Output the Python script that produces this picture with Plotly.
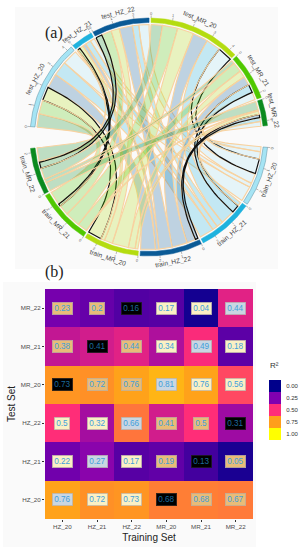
import math
import plotly.graph_objects as go

# R2 of each test set (rows) against each training set (columns)
train_sets = ["HZ_20", "HZ_21", "HZ_22", "MR_20", "MR_21", "MR_22"]
test_sets = ["HZ_20", "HZ_21", "HZ_22", "MR_20", "MR_21", "MR_22"]
r2_HZ_20 = [0.76, 0.72, 0.73, 0.68, 0.68, 0.67]
r2_HZ_21 = [0.22, 0.27, 0.17, 0.19, 0.13, 0.05]
r2_HZ_22 = [0.5, 0.32, 0.66, 0.41, 0.5, 0.31]
r2_MR_20 = [0.73, 0.72, 0.76, 0.81, 0.76, 0.56]
r2_MR_21 = [0.38, 0.41, 0.44, 0.34, 0.49, 0.18]
r2_MR_22 = [0.23, 0.2, 0.16, 0.17, 0.04, 0.44]
r2_rows = [r2_HZ_20, r2_HZ_21, r2_HZ_22, r2_MR_20, r2_MR_21, r2_MR_22]

# label box style of each cell: c cream, t tan, g grey-blue, k black
box_HZ_20 = list("gcckt" + "t")
box_HZ_21 = list("cgctkt")
box_HZ_22 = list("ccgttk")
box_MR_20 = list("kttgcc")
box_MR_21 = list("tktcgc")
box_MR_22 = list("ttkccg")
box_rows = [box_HZ_20, box_HZ_21, box_HZ_22, box_MR_20, box_MR_21, box_MR_22]
box_colors = {"c": "#FBF0C4", "t": "#E8BC78", "g": "#C9D6E2", "k": "#000000"}

sector_colors = ["#A6E4F4", "#1FB2DE", "#0A5A96", "#B4DC10", "#50C800", "#0A8A1E"]
legend_values = [0.0, 0.25, 0.5, 0.75, 1.0]
legend_labels = ["0.00", "0.25", "0.50", "0.75", "1.00"]
scale_colors = ["#00008B", "#8000B0", "#FF2D78", "#FF9E1B", "#FFFF00"]

W, H = 308, 550
CX, CY, R = 149.0, 137.0, 119.0
FONT = "Liberation Sans"

colorscale = [[v, c] for v, c in zip(legend_values, scale_colors)]


def polar(angle_deg, r):
    a = math.radians(angle_deg)
    return r * math.sin(a), r * math.cos(a)


def rgba(hex_color, alpha):
    return "rgba(%d,%d,%d,%.3f)" % (int(hex_color[1:3], 16), int(hex_color[3:5], 16),
                                    int(hex_color[5:7], 16), alpha)


# Layout of the chord sectors, clockwise from the left
test_totals = [sum(row) for row in r2_rows]
train_totals = [sum(row[j] for row in r2_rows) for j in range(6)]
GAP, BIG_GAP = 1.0, 10.5
deg_per_unit = (360 - 10 * GAP - 2 * BIG_GAP) / (sum(test_totals) + sum(train_totals))
START = -85.0

sectors = []
angle = START
for i, t in enumerate(test_totals):
    sectors.append(("test_" + test_sets[i], angle, t, sector_colors[i]))
    angle += t * deg_per_unit + GAP
angle += BIG_GAP - GAP
for j, t in enumerate(train_totals):
    sectors.append(("train_" + train_sets[j], angle, t, sector_colors[j]))
    angle += t * deg_per_unit + GAP

# link positions inside the sectors: both sides run MR_22 -> HZ_20 clockwise
test_pos = {}
for i in range(6):
    a = sectors[i][1]
    for j in reversed(range(6)):
        w = r2_rows[i][j] * deg_per_unit
        test_pos[(i, j)] = (a, a + w)
        a += w
train_pos = {}
for j in range(6):
    a = sectors[6 + j][1]
    for i in reversed(range(6)):
        w = r2_rows[i][j] * deg_per_unit
        train_pos[(i, j)] = (a, a + w)
        a += w

fig = go.Figure()
LINK_R = 0.945


def arc(a0, a1, r, n=14):
    return [polar(a0 + (a1 - a0) * k / n, r) for k in range(n + 1)]


def bez(p0, p1, n=40):
    # quadratic curve pulled to the centre of the circle
    pts = []
    for k in range(n + 1):
        t = k / n
        pts.append(((1 - t) ** 2 * p0[0] + t ** 2 * p1[0], (1 - t) ** 2 * p0[1] + t ** 2 * p1[1]))
    return pts


for i in range(6):
    for j in range(6):
        s0, s1 = test_pos[(i, j)]
        t0, t1 = train_pos[(i, j)]
        a1 = arc(s0, s1, LINK_R)
        a2 = arc(t0, t1, LINK_R)
        pts = a1 + bez(a1[-1], a2[0]) + a2 + bez(a2[-1], a1[0])
        black = box_rows[i][j] == "k"
        fig.add_trace(go.Scatter(
            x=[p[0] for p in pts], y=[p[1] for p in pts], mode="lines", fill="toself",
            fillcolor=rgba(sector_colors[j], 0.25),
            line=dict(color="#111111" if black else "#F8D2A0", width=1.2 if black else 1.1),
            hoverinfo="skip", showlegend=False, xaxis="x", yaxis="y"))

annotations = []
for name, a0, total, color in sectors:
    a1 = a0 + total * deg_per_unit
    outer = arc(a0, a1, 1.0, 40)
    inner = arc(a1, a0, 0.962, 40)
    pts = outer + inner + outer[:1]
    fig.add_trace(go.Scatter(
        x=[p[0] for p in pts], y=[p[1] for p in pts], mode="lines", fill="toself",
        fillcolor=color, line=dict(color="#5A8FA0" if color == "#A6E4F4" else color, width=0.5),
        hoverinfo="skip", showlegend=False, xaxis="x", yaxis="y"))
    # axis ticks
    u = 0
    while u <= total + 1e-9:
        ang = a0 + u * deg_per_unit
        p0, p1 = polar(ang, 1.0), polar(ang, 1.022)
        fig.add_trace(go.Scatter(x=[p0[0], p1[0]], y=[p0[1], p1[1]], mode="lines",
                                 line=dict(color="#777777", width=0.5), hoverinfo="skip",
                                 showlegend=False, xaxis="x", yaxis="y"))
        lx, ly = polar(ang, 1.042)
        norm = (ang + 180) % 360 - 180
        rot = norm if abs(norm) < 90 else norm + 180
        annotations.append(dict(x=lx, y=ly, xref="x", yref="y", text=str(u), showarrow=False,
                                textangle=rot, font=dict(size=4, color="#666666", family=FONT)))
        u += 1
    mid = (a0 + a1) / 2
    lx, ly = polar(mid, 1.072)
    norm = (mid + 180) % 360 - 180
    rot = norm if abs(norm) < 90 else norm + 180
    annotations.append(dict(x=lx, y=ly, xref="x", yref="y", text=name, showarrow=False,
                            textangle=rot, font=dict(size=6.6, color="#444444", family=FONT)))

# Heatmap
fig.add_trace(go.Heatmap(z=r2_rows, x=train_sets, y=test_sets, zmin=0, zmax=1,
                         colorscale=colorscale, showscale=False, hoverinfo="skip",
                         xaxis="x2", yaxis="y2", xgap=0, ygap=0))
for i, row in enumerate(r2_rows):
    for j, v in enumerate(row):
        k = box_rows[i][j]
        annotations.append(dict(
            x=train_sets[j], y=test_sets[i], xref="x2", yref="y2", text=("%.2f" % v).rstrip("0"),
            showarrow=False, bgcolor=box_colors[k],
            bordercolor="#222222" if k == "k" else "#B4B0A8", borderwidth=0.6, borderpad=1.6,
            font=dict(size=8.2, color="#1C6A9C" if k == "k" else "#3F9FDC", family=FONT)))

# Legend as a heatmap of the five colour steps
fig.add_trace(go.Heatmap(z=[[v] for v in legend_values], x=["R²"], y=legend_labels, zmin=0, zmax=1,
                         colorscale=colorscale, showscale=False, hoverinfo="skip",
                         xaxis="x3", yaxis="y3"))
annotations.append(dict(x=268 / W, y=1 - 372 / H, xref="paper", yref="paper", text="R²", showarrow=False,
                        xanchor="left", font=dict(size=8, color="#333333", family=FONT)))

annotations.append(dict(x=43 / W, y=1 - 22 / H, xref="paper", yref="paper", text="(a)", showarrow=False,
                        font=dict(size=16, color="#222222", family="Liberation Serif")))
annotations.append(dict(x=43 / W, y=1 - 272 / H, xref="paper", yref="paper", text="(b)", showarrow=False,
                        font=dict(size=16, color="#222222", family="Liberation Serif")))

fig.update_layout(
    width=W, height=H, margin=dict(l=0, r=0, t=0, b=0), autosize=False,
    paper_bgcolor="white", plot_bgcolor="rgba(0,0,0,0)", showlegend=False,
    annotations=annotations,
    shapes=[
        dict(type="rect", xref="paper", yref="paper", x0=15 / W, x1=278 / W, y0=1 - 269 / H, y1=1 - 7 / H,
             fillcolor="#FAFAFA", line_width=0, layer="below"),
        dict(type="rect", xref="paper", yref="paper", x0=3 / W, x1=256 / W, y0=1 - 547 / H, y1=1 - 282 / H,
             fillcolor="#FAFAFA", line_width=0, layer="below"),
    ],
    xaxis=dict(domain=[0, 1], range=[-CX / R, (W - CX) / R], visible=False, fixedrange=True),
    yaxis=dict(domain=[0, 1], range=[(CY - H) / R, CY / R], visible=False, fixedrange=True),
    xaxis2=dict(domain=[45 / W, 253 / W], anchor="y2", type="category", ticks="outside", ticklen=2,
                tickwidth=0.6, tickcolor="#333333", showgrid=False, zeroline=False,
                tickfont=dict(size=6.2, color="#4D4D4D", family=FONT),
                title=dict(text="Training Set", standoff=4, font=dict(size=10, color="#222222", family=FONT))),
    yaxis2=dict(domain=[1 - 519 / H, 1 - 289 / H], anchor="x2", type="category", ticks="outside", ticklen=2,
                tickwidth=0.6, tickcolor="#333333", showgrid=False, zeroline=False,
                tickfont=dict(size=6.2, color="#4D4D4D", family=FONT),
                title=dict(text="Test Set", standoff=3, font=dict(size=10, color="#222222", family=FONT))),
    xaxis3=dict(domain=[269 / W, 281 / W], anchor="y3", visible=False, type="category"),
    yaxis3=dict(domain=[1 - 440 / H, 1 - 380 / H], anchor="x3", side="right", type="category",
                autorange="reversed", ticks="outside", ticklen=3, tickcolor="rgba(0,0,0,0)",
                showgrid=False, zeroline=False,
                tickfont=dict(size=6, color="#333333", family=FONT)),
)
fig.write_html("out.html", config=dict(displayModeBar=False),
               post_script="document.body.style.margin='0';document.documentElement.style.overflow='hidden';")
